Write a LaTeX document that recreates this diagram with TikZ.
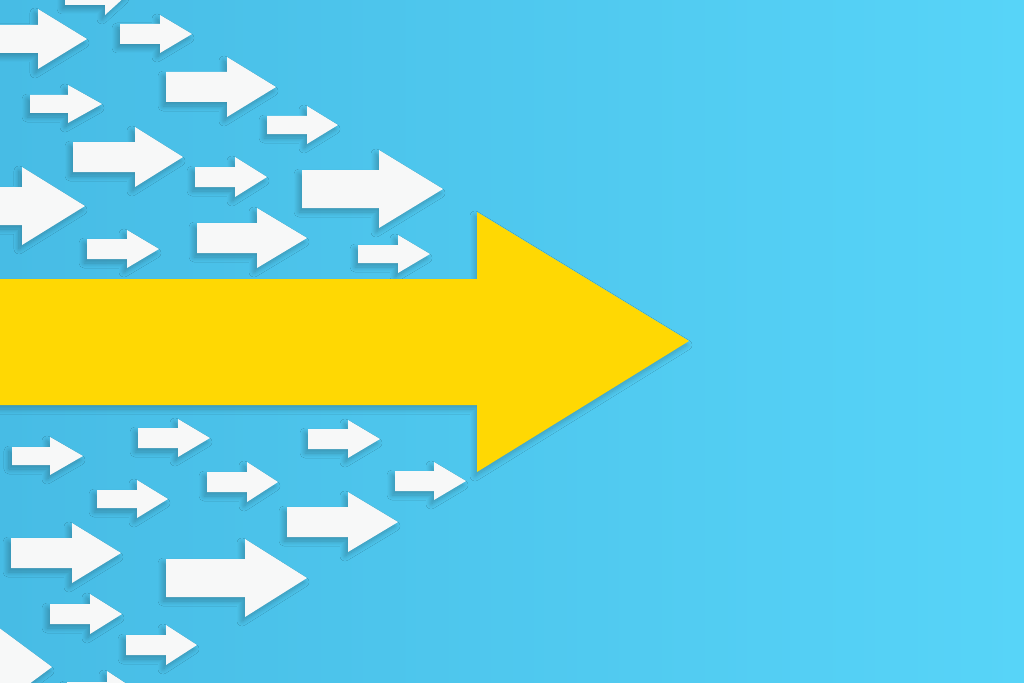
\documentclass[tikz,border=0pt]{standalone}
\usetikzlibrary{shadows.blur}
\definecolor{bgL}{HTML}{47BCE5}
\definecolor{bgR}{HTML}{57D4F8}
\definecolor{yel}{HTML}{FFD803}
\definecolor{wht}{HTML}{F7F8F8}
\tikzset{
  warr/.style={fill=wht, blur shadow={shadow xshift=-3pt, shadow yshift=-4pt, shadow opacity=25, shadow blur steps=10, shadow blur radius=5pt}},
  yarr/.style={fill=yel, blur shadow={shadow xshift=-2pt, shadow yshift=-4pt, shadow opacity=22, shadow blur steps=10, shadow blur radius=5pt}}
}
% #1 shaft start x, #2 head base x, #3 tip x, #4 centre y, #5 shaft half height, #6 head half height
\newcommand\WArr[6]{%
  \path[warr] (#1,{#4-#5}) -- (#2,{#4-#5}) -- (#2,{#4-#6}) -- (#3,#4) -- (#2,{#4+#6}) -- (#2,{#4+#5}) -- (#1,{#4+#5}) -- cycle;}
\begin{document}
\begin{tikzpicture}[x=1pt,y=-1pt]
\useasboundingbox (0,0) rectangle (1024,682);
\shade[left color=bgL, right color=bgR] (0,0) rectangle (1024,682);
% top group
\WArr{65}{105}{127}{-5}{10}{20}
\WArr{-10}{38}{87}{39}{14}{30}
\WArr{120}{160}{192}{34}{10}{19}
\WArr{166}{227}{276}{87}{15}{30}
\WArr{30}{68}{102}{104}{9}{19}
\WArr{267}{307}{338}{125}{9}{19}
\WArr{73}{135}{183}{157}{15}{30}
\WArr{195}{235}{267}{177}{10}{20}
\WArr{302}{379}{443}{189}{19}{39}
\WArr{-10}{22}{85}{206}{19}{39}
\WArr{87}{127}{159}{249}{10}{19}
\WArr{197}{257}{307}{238}{15}{30}
\WArr{358}{398}{430}{254}{9}{19}
% yellow arrow
\path[yarr] (-10,279) -- (477,279) -- (477,212) -- (689,341) -- (477,472) -- (477,405) -- (-10,405) -- cycle;
% bottom group
\WArr{12}{50}{83}{456}{9}{19}
\WArr{138}{178}{210}{438}{10}{19}
\WArr{308}{348}{380}{439}{10}{19}
\WArr{97}{137}{168}{499}{9}{19}
\WArr{207}{247}{278}{482}{10}{20}
\WArr{395}{434}{466}{481}{10}{19}
\WArr{287}{348}{398}{522}{15}{30}
\WArr{11}{72}{121}{553}{15}{30}
\WArr{166}{245}{307}{578}{19}{39}
\WArr{50}{90}{122}{614}{10}{20}
\WArr{126}{166}{197}{645}{10}{20}
\WArr{-40}{-2}{52}{667}{19}{40}
\WArr{67}{107}{139}{692}{10}{21}
\end{tikzpicture}
\end{document}
